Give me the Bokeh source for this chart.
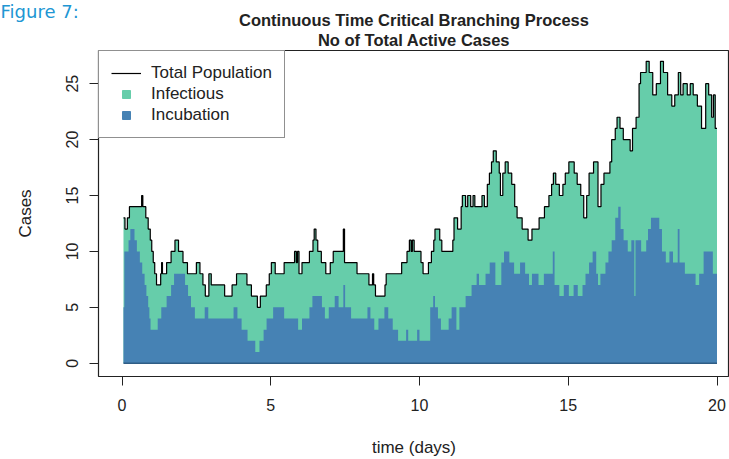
import numpy as np
from bokeh.plotting import figure
from bokeh.models import Range1d, Legend, LegendItem, Title, FixedTicker
from bokeh.embed import file_html
from bokeh.resources import INLINE

# ---------------- data (step functions: value holds from t until next t) -------------
t_total = [0.05, 0.10, 0.18, 0.25, 0.66, 0.70, 0.80, 0.88, 0.95, 1.00, 1.05, 1.10, 1.16,
           1.30, 1.33, 1.36, 1.50, 1.65, 1.78, 1.90, 2.05, 2.20, 2.50, 2.62, 2.72, 2.80,
           2.92, 3.00, 3.45, 3.70, 3.85, 4.20, 4.35, 4.55, 4.65, 4.85, 4.95, 5.02, 5.15,
           5.45, 5.80, 5.86, 5.90, 5.95, 6.05, 6.30, 6.42, 6.46, 6.52, 6.58, 6.70, 6.85,
           7.00, 7.10, 7.44, 7.48, 7.90, 8.30, 8.42, 8.46, 8.52, 8.84, 8.88, 9.40, 9.58,
           9.66, 9.72, 9.76, 9.82, 10.05, 10.12, 10.30, 10.40, 10.48, 10.52, 10.68, 10.75,
           11.12, 11.16, 11.28, 11.40, 11.44, 11.55, 11.62, 11.72, 11.80, 11.86, 12.10,
           12.18, 12.28, 12.35, 12.42, 12.48, 12.58, 12.68, 12.72, 12.80, 12.88, 12.98,
           13.10, 13.20, 13.28, 13.45, 13.65, 13.78, 14.02, 14.20, 14.35, 14.44, 14.50,
           14.58, 14.70, 14.82, 14.90, 15.02, 15.20, 15.30, 15.42, 15.52, 15.62, 15.70,
           15.85, 16.00, 16.10, 16.20, 16.40, 16.46, 16.58, 16.64, 16.74, 16.85, 17.08,
           17.16, 17.28, 17.38, 17.43, 17.62, 17.72, 17.84, 17.96, 18.10, 18.20, 18.34,
           18.48, 18.58, 18.70, 18.78, 18.86, 19.00, 19.10, 19.20, 19.34, 19.48, 19.62,
           19.72, 19.82, 19.88, 19.94, 20.00]
total = [13, 12, 13, 14, 15, 14, 13, 12, 11, 10, 9, 8, 7,
         8, 9, 8, 9, 10, 11, 10, 9, 8, 9, 8, 7, 6,
         8, 7, 6, 7, 8, 7, 6, 5, 6, 7, 8, 9, 8,
         9, 10, 9, 10, 8, 9, 10, 11, 12, 11, 10, 9, 8,
         9, 10, 12, 9, 8, 7, 8, 7, 6, 7, 8, 9, 10,
         11, 10, 11, 10, 9, 8, 9, 10, 11, 12, 11, 10,
         11, 13, 12, 14, 15, 14, 15, 14, 15, 14, 15,
         14, 16, 17, 18, 19, 18, 17, 15, 17, 18, 17,
         16, 14, 13, 12, 11, 12, 13, 14, 15, 16, 17,
         16, 15, 16, 17, 18, 17, 16, 15, 13, 15, 17,
         18, 14, 16, 17, 18, 20, 21, 22, 21, 20, 19,
         21, 22, 25, 26, 27, 26, 24, 25, 27, 26, 24,
         23, 24, 26, 24, 25, 24, 25, 24, 23, 21, 25,
         24, 22, 24, 21, 21]

t_incub = [0.05, 0.08, 0.22, 0.28, 0.42, 0.50, 0.60, 0.68, 0.76, 0.82, 0.88, 0.92, 0.96,
           1.20, 1.32, 1.50, 1.65, 1.75, 2.12, 2.22, 2.32, 2.45, 2.78, 2.90, 3.75, 3.88,
           4.02, 4.22, 4.48, 4.62, 4.76, 4.86, 5.08, 5.45, 5.92, 6.05, 6.30, 6.40, 6.72,
           6.82, 6.95, 7.15, 7.28, 7.44, 7.50, 7.70, 8.25, 8.35, 8.48, 8.62, 8.82, 8.95,
           9.10, 9.28, 9.55, 9.62, 9.92, 10.00, 10.36, 10.46, 10.52, 10.62, 10.72, 10.98,
           11.08, 11.24, 11.34, 11.55, 11.75, 11.92, 12.00, 12.22, 12.36, 12.55, 12.75,
           12.84, 13.02, 13.18, 13.38, 13.55, 13.68, 13.78, 14.00, 14.18, 14.48, 14.54,
           14.70, 14.85, 15.02, 15.18, 15.32, 15.48, 15.58, 15.70, 15.82, 15.94, 16.00,
           16.08, 16.25, 16.35, 16.46, 16.58, 16.68, 16.76, 16.86, 17.00, 17.12, 17.22,
           17.26, 17.45, 17.62, 17.68, 17.78, 18.06, 18.15, 18.28, 18.40, 18.52, 18.68,
           18.74, 18.92, 19.28, 19.40, 19.55, 19.86, 20.00]
incubation = [5, 10, 11, 12, 11, 10, 9, 8, 7, 6, 5, 4, 3,
              4, 5, 6, 7, 8, 7, 6, 5, 4, 5, 4, 5, 4,
              3, 2, 1, 2, 3, 4, 5, 4, 3, 4, 5, 6, 5,
              4, 5, 6, 5, 7, 5, 4, 5, 4, 3, 4, 5, 4,
              3, 2, 3, 2, 3, 2, 5, 6, 5, 4, 3, 4,
              5, 3, 5, 6, 7, 8, 7, 8, 9, 7, 9,
              10, 9, 8, 9, 8, 7, 8, 7, 8, 10, 7,
              6, 7, 6, 7, 6, 7, 8, 9, 10, 8, 7,
              8, 9, 10, 11, 13, 14, 12, 11, 10, 11, 6,
              11, 10, 11, 12, 13, 12, 10, 9, 10, 9, 12,
              9, 8, 7, 8, 10, 8, 8]

x_ticks = [0, 5, 10, 15, 20]
y_ticks = [0, 5, 10, 15, 20, 25]

GREEN = "#66CDAA"   # mediumaquamarine
BLUE = "#4682B4"    # steelblue
INK = "#222222"
FONT = "Liberation Sans"

# ---------------- layout ----------------
W, H = 729, 459
LEFT, RIGHT, TOP, BOTTOM = 98, 0, 50, 83
XR = (-0.79, 20.42)
YR = (-1.19, 27.97)

p = figure(width=W, height=H, output_backend="svg", toolbar_location=None,
           x_range=Range1d(*XR), y_range=Range1d(*YR),
           min_border_left=LEFT, min_border_right=RIGHT,
           min_border_top=TOP, min_border_bottom=BOTTOM)
p.xgrid.visible = False
p.ygrid.visible = False
p.outline_line_color = INK
p.outline_line_width = 1.2
p.background_fill_color = "white"
p.border_fill_color = "white"

# ---------------- glyphs ----------------
p.varea_step(x=t_total, y1=[0] * len(t_total), y2=total,
             step_mode="after", fill_color=GREEN)
p.varea_step(x=t_incub, y1=[0] * len(t_incub), y2=incubation,
             step_mode="after", fill_color=BLUE)
p.line(x=[t_incub[0], t_incub[-1]], y=[0, 0], line_color="#2f5d85", line_width=1.5)
l_tot = p.step(x=t_total, y=total, mode="after", line_color="black", line_width=1.2)

# legend-only markers (NaN data, never drawn in the plot area)
nan = np.array([np.nan])
sq_inf = p.scatter(x=nan, y=nan, marker="square", size=7, fill_color=GREEN, line_color=GREEN)
sq_inc = p.scatter(x=nan, y=nan, marker="square", size=7, fill_color=BLUE, line_color=BLUE)

# ---------------- axes ----------------
for ax in (p.xaxis[0], p.yaxis[0]):
    ax.axis_line_color = None
    ax.major_tick_out = 9
    ax.major_tick_in = 0
    ax.minor_tick_line_color = None
    ax.major_tick_line_color = INK
    ax.major_label_text_font = FONT
    ax.major_label_text_font_size = "16px"
    ax.major_label_text_color = INK
    ax.axis_label_text_font = FONT
    ax.axis_label_text_font_size = "17px"
    ax.axis_label_text_font_style = "normal"
    ax.axis_label_text_color = INK

p.xaxis.ticker = FixedTicker(ticks=x_ticks)
p.yaxis.ticker = FixedTicker(ticks=y_ticks)
p.xaxis.axis_label = "time (days)"
p.yaxis.axis_label = "Cases"
p.yaxis.major_label_orientation = "vertical"
p.xaxis.major_label_standoff = 13
p.yaxis.major_label_standoff = 11
p.xaxis.axis_label_standoff = 24
p.yaxis.axis_label_standoff = 29

# ---------------- legend ----------------
legend = Legend(items=[LegendItem(label="Total Population", renderers=[l_tot]),
                       LegendItem(label="Infectious", renderers=[sq_inf]),
                       LegendItem(label="Incubation", renderers=[sq_inc])],
                location="top_left", margin=0, padding=12, spacing=1,
                glyph_width=30, glyph_height=20, label_height=20, label_standoff=10,
                label_text_font=FONT, label_text_font_size="17px",
                label_text_color=INK,
                border_line_color=INK, border_line_width=1.2,
                background_fill_color="white", background_fill_alpha=1.0)
p.add_layout(legend)

# ---------------- titles (stacked above the frame, nearest first) ----------------
p.add_layout(Title(text="No of Total Active Cases", align="center",
                   text_font=FONT, text_font_size="16.5px", text_font_style="bold",
                   text_color=INK, standoff=3), "above")
p.add_layout(Title(text="Continuous Time Critical Branching Process", align="center",
                   text_font=FONT, text_font_size="16.5px", text_font_style="bold",
                   text_color=INK, standoff=-3), "above")
p.add_layout(Title(text="Figure 7:", align="left", offset=-LEFT,
                   text_font="DejaVu Sans", text_font_size="18px", text_font_style="normal",
                   text_color="#2196d3", standoff=-22.5), "above")

open("out.html", "w").write(file_html(p, INLINE))
